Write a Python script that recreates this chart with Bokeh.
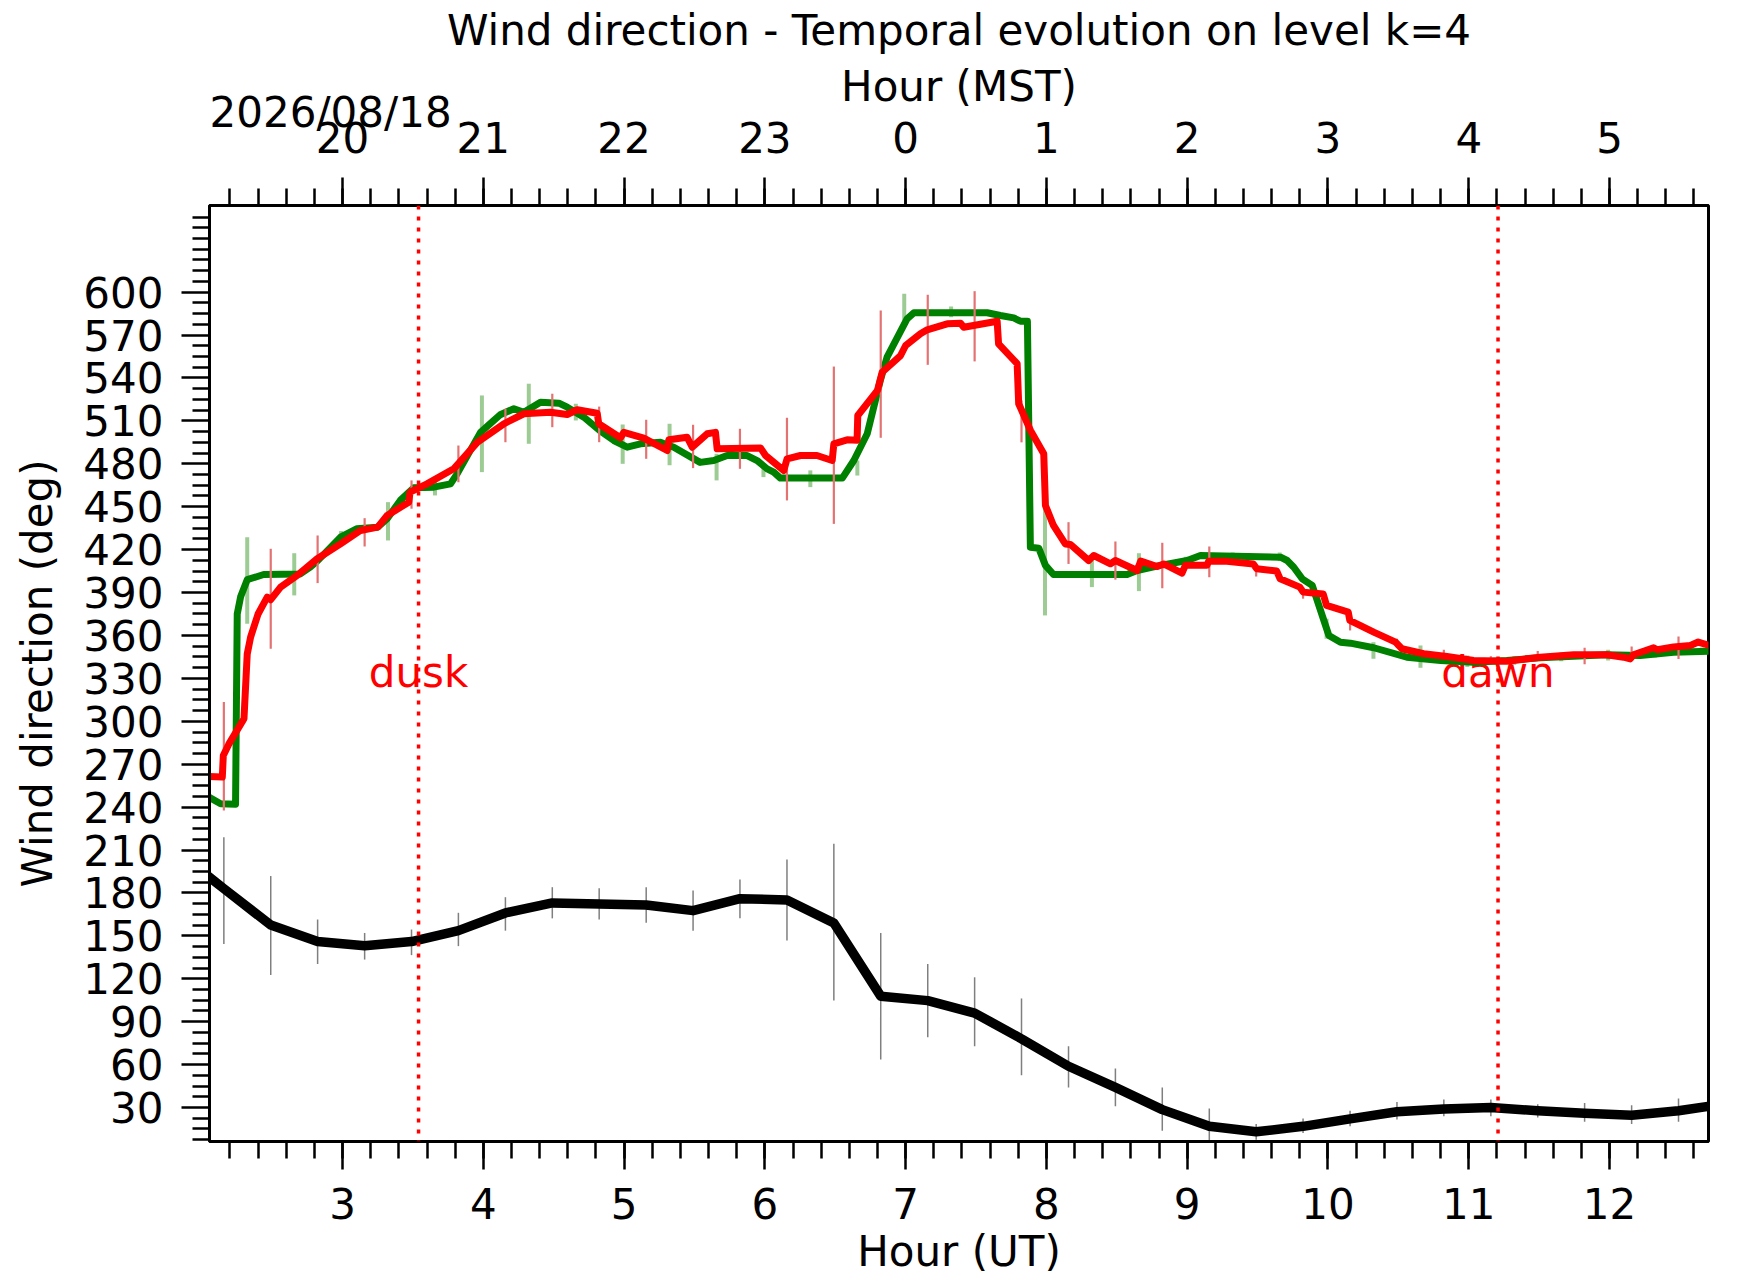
from bokeh.plotting import figure
from bokeh.models import (Range1d, FixedTicker, LinearAxis, Label, Span,
                          CustomJSTickFormatter)
from bokeh.core.properties import value
from bokeh.embed import file_html
from bokeh.resources import INLINE

# ---------------- data ----------------
title_text = "Wind direction - Temporal evolution on level k=4"
date_text = "2026/08/18"
date_center_ut = 2.915

ut_ticks = [3, 4, 5, 6, 7, 8, 9, 10, 11, 12]
mst_labels = ["20", "21", "22", "23", "0", "1", "2", "3", "4", "5"]
y_ticks = [30, 60, 90, 120, 150, 180, 210, 240, 270, 300, 330, 360, 390, 420,
           450, 480, 510, 540, 570, 600]

event_ut = [3.54, 11.208]
event_names = ["dusk", "dawn"]
event_text_y = [334, 334]

# black series (20-min samples)
black_t = [1.823, 2.157, 2.49, 2.823, 3.157, 3.49, 3.823, 4.157, 4.49, 4.823, 5.157,
           5.49, 5.823, 6.157, 6.49, 6.823, 7.157, 7.49, 7.823, 8.157, 8.49, 8.823,
           9.157, 9.49, 9.823, 10.157, 10.49, 10.823, 11.157, 11.49, 11.823, 12.157,
           12.49, 12.823]
black_v = [209, 183, 157.5, 146, 143, 146, 153.6, 166, 173, 172.3, 171.5, 167.6, 176,
           175, 159, 107.8, 104.7, 96, 78, 58.8, 44, 28.5, 16.8, 13, 16.8, 22, 27, 29,
           30, 27.7, 26, 24.6, 27.7, 32.6]

err_t = [2.157, 2.49, 2.823, 3.157, 3.49, 3.823, 4.157, 4.49, 4.823, 5.157, 5.49,
         5.823, 6.157, 6.49, 6.823, 7.157, 7.49, 7.823, 8.157, 8.49, 8.823, 9.157,
         9.49, 9.823, 10.157, 10.49, 10.823, 11.157, 11.49, 11.823, 12.157, 12.49]
black_hi = [219, 191.8, 161.4, 152, 154.4, 166.1, 177, 184, 183.2, 184, 181.6, 189.4,
            203.4, 214.3, 152, 130.3, 121, 106.2, 72.8, 57.2, 44, 29.2, 18.4, 22.2,
            27.7, 33.9, 35.5, 35.5, 32.3, 33.1, 31.6, 36.3]
black_lo = [144.3, 122.6, 130.3, 133.4, 136.5, 142.8, 153.6, 162.2, 161.4, 159.1,
            153.6, 162.2, 146.7, 104.7, 63.5, 79, 72.8, 52.6, 44, 30.8, 13.7, 5.1,
            7.5, 12.1, 16.8, 21.5, 23.8, 23.8, 23, 20, 18.4, 20]

red_hi = [313.4, 420.6, 429.9, 442, 468.4, 492.8, 518.5, 529, 520, 510.8, 507.3,
          504.5, 512.2, 548, 587.2, 598.2, 600.7, 524.3, 439.2, 425.7, 424.8, 422.2,
          408.9, 393.8, 372, 357.7, 350, 345.5, 349.2, 351.4, 352.3, 359.3]
red_lo = [237.6, 350.7, 396.6, 422.2, 448.6, 467.1, 495.1, 505.6, 495.1, 483.5, 477,
          476.5, 454.4, 438, 498.2, 549.2, 551.6, 495, 410, 399, 393, 400.7, 401.2,
          385.7, 363.5, 351.4, 345, 341.6, 343, 339.8, 343, 343.5]

green_err_t = [2.323, 2.657, 2.99, 3.323, 3.657, 3.99, 4.323, 4.657, 4.99, 5.323,
               5.657, 5.99, 6.323, 6.657, 6.99, 7.323, 7.657, 7.99, 8.323, 8.657,
               8.99, 9.323, 9.657, 9.99, 10.323, 10.657, 10.99, 11.323, 11.657,
               11.99, 12.323, 12.657]
green_hi = [428.7, 417.5, 433, 453.2, 468.4, 527.8, 536, 522, 507.5, 508, 487, 477.7,
            475.4, 482.3, 598.9, 590, 586, 449.7, 412.4, 417.5, 415, 418, 418, 371.7,
            355.3, 353, 346, 345.5, 348, 350, 349.5, 351.5]
green_lo = [368.2, 388, 424, 426.4, 457.9, 474.2, 494, 510.3, 480, 479, 468.4, 470.7,
            463.7, 471.8, 580.2, 582.5, 582.5, 374, 393.8, 391, 410, 412, 412, 357.7,
            343.7, 337.4, 338, 339.5, 342, 342.5, 344.5, 346.5]

green_t = [2.05, 2.134, 2.24, 2.252, 2.276, 2.323, 2.44, 2.70, 2.77, 2.82, 2.986, 3.10,
           3.25, 3.317, 3.41, 3.506, 3.648, 3.767, 3.814, 3.98, 4.075, 4.12, 4.217,
           4.288, 4.406, 4.537, 4.596, 4.714, 4.83, 4.927, 5.022, 5.116, 5.258, 5.353,
           5.54, 5.637, 5.732, 5.874, 5.945, 6.016, 6.063, 6.11, 6.55, 6.632, 6.727,
           6.82, 6.868, 7.01, 7.058, 7.579, 7.673, 7.768, 7.815, 7.865, 7.886, 7.946,
           7.993, 8.05, 8.573, 8.644, 8.81, 9.0, 9.094, 9.663, 9.71, 9.757, 9.817,
           9.888, 10.006, 10.089, 10.159, 10.325, 10.56, 10.8, 11.035, 11.27, 11.508,
           11.745, 11.98, 12.218, 12.455, 12.71]
green_v = [247, 242.3, 242, 375, 387, 399, 402.6, 403, 407.7, 412, 428.7, 434.6,
           435.7, 441.6, 454.4, 463.2, 463.7, 466, 473, 502, 510.3, 514.3, 518.5,
           516, 523, 522.4, 519.6, 512.6, 503, 496.3, 491.6, 494, 495, 491.6,
           481, 482.3, 485.8, 485.8, 482.3, 476.5, 474.2, 470, 470, 482.3, 501,
           538.3, 554.6, 581.4, 585.6, 585.6, 583.7, 582, 579.7, 579.7, 421.7, 421,
           409, 402.6, 402.6, 405.4, 409, 412.4, 415.9, 414.7, 412.4, 407.7, 399.6,
           395, 360, 355.3, 354.6, 351.4, 344.8, 342.5, 341.3, 342.5, 344.4,
           345.5, 346.5, 346, 348.3, 349]

red_t = [2.05, 2.146, 2.153, 2.192, 2.30, 2.323, 2.347, 2.40, 2.465, 2.49, 2.56, 2.678,
         2.82, 2.986, 3.128, 3.25, 3.317, 3.47, 3.48, 3.6, 3.79, 3.957, 4.146, 4.288,
         4.477, 4.596, 4.667, 4.809, 4.82, 4.974, 4.998, 5.14, 5.306, 5.318, 5.448,
         5.484, 5.59, 5.649, 5.661, 5.97, 6.005, 6.134, 6.158, 6.253, 6.37, 6.478,
         6.49, 6.584, 6.655, 6.66, 6.80, 6.833, 6.964, 7.0, 7.105, 7.153, 7.295,
         7.39, 7.413, 7.65, 7.66, 7.792, 7.803, 7.887, 7.981, 7.993, 8.05, 8.134,
         8.17, 8.30, 8.336, 8.455, 8.49, 8.644, 8.67, 8.786, 8.833, 8.963, 8.987,
         9.14, 9.152, 9.282, 9.47, 9.494, 9.636, 9.66, 9.8, 9.824, 9.966, 9.99,
         10.144, 10.155, 10.325, 10.48, 10.525, 10.68, 10.845, 11.035, 11.27,
         11.508, 11.745, 11.98, 12.1, 12.147, 12.17, 12.313, 12.34, 12.455, 12.574,
         12.63, 12.71]
red_v = [261.4, 261, 276, 284, 301.8, 347, 358.8, 375, 386.8, 385, 393.8, 402,
         413.6, 424, 433.4, 435.7, 443.9, 453.2, 460.2, 466, 476.5, 495, 508, 515,
         516, 514.5, 517.8, 515.4, 508, 498.2, 502, 498, 489.3, 496.8, 498.6,
         491.6, 501, 502, 490.5, 491, 485.8, 475.3, 483.5, 485.8, 485.8, 482.3,
         494, 496.8, 496.5, 513.8, 531.3, 544, 555.7, 562.7, 570.9, 573.7, 577.9,
         578.3, 575.5, 579.7, 563.9, 550, 522, 503.3, 487, 450.9, 436.9, 424,
         423.6, 412.4, 415.9, 410.1, 412.4, 405.4, 412, 408.2, 410, 403.6, 409,
         409, 411.8, 411.8, 410, 406.6, 405, 399.6, 393.8, 390.3, 389, 381,
         376.3, 370.5, 362.3, 355.3, 350.7, 347.2, 345.3, 342.5, 342,
         344.8, 346.5, 346.5, 344.8, 343.6, 346.5, 351.4, 350, 352, 353,
         355.4, 353]

# ---------------- figure ----------------
FONT = "DejaVu Sans"
FS = "42px"

x_lo, x_hi = 2.055, 12.703
y_lo, y_hi = 6.2, 660.6

p = figure(width=1740, height=1280, output_backend="svg", toolbar_location=None,
           x_range=Range1d(x_lo, x_hi), y_range=Range1d(y_lo, y_hi),
           min_border_left=209, min_border_right=32, min_border_top=205,
           min_border_bottom=139, title=title_text)
p.background_fill_color = "white"
p.border_fill_color = "white"
p.outline_line_color = "black"
p.outline_line_width = 3
p.xgrid.visible = False
p.ygrid.visible = False

p.title.align = "center"
p.title.text_font = FONT
p.title.text_font_size = FS
p.title.text_font_style = "normal"
p.title.text_color = "black"
p.title.standoff = 7


def style_axis(ax):
    ax.axis_line_width = 3
    ax.axis_line_color = "black"
    ax.major_tick_line_width = 2.5
    ax.minor_tick_line_width = 2.5
    ax.major_tick_line_color = "black"
    ax.minor_tick_line_color = "black"
    ax.major_tick_in = 0
    ax.major_tick_out = 28
    ax.minor_tick_in = 0
    ax.minor_tick_out = 17
    ax.major_label_text_font = FONT
    ax.major_label_text_font_size = FS
    ax.major_label_text_color = "black"
    ax.axis_label_text_font = FONT
    ax.axis_label_text_font_size = FS
    ax.axis_label_text_font_style = "normal"
    ax.axis_label_text_color = "black"


ut_minor = [round(2.2 + 0.2 * i, 1) for i in range(53)]
y_minor = [7.5 * i for i in range(1, 88) if (7.5 * i) % 30 != 0 or 7.5 * i > 600]

xb = p.xaxis[0]
xb.ticker = FixedTicker(ticks=ut_ticks, minor_ticks=ut_minor)
style_axis(xb)
xb.major_label_standoff = 18

yl = p.yaxis[0]
yl.ticker = FixedTicker(ticks=y_ticks, minor_ticks=y_minor)
yl.axis_label = "Wind direction (deg)"
style_axis(yl)
yl.major_label_standoff = 18
yl.axis_label_standoff = 18

# top axis: MST hours
xt = LinearAxis(ticker=FixedTicker(ticks=ut_ticks, minor_ticks=ut_minor),
                major_label_overrides={t: lab for t, lab in zip(ut_ticks, mst_labels)})
style_axis(xt)
xt.major_label_standoff = 25
p.add_layout(xt, "above")

# second top "axis" carrying only the date and the MST axis title
xd = LinearAxis(ticker=FixedTicker(ticks=[date_center_ut], minor_ticks=[]),
                formatter=CustomJSTickFormatter(code="return '%s';" % date_text),
                axis_label="Hour (MST)")
style_axis(xd)
xd.axis_line_color = None
xd.major_tick_out = 0
xd.minor_tick_out = 0
xd.major_label_text_align = "center"
xd.major_label_standoff = -18
xd.axis_label_standoff = -26
p.add_layout(xd, "above")

# bottom axis title placed in the bottom panel
p.add_layout(Label(x=(x_lo + x_hi) / 2, y=y_lo - 77.0, text="Hour (UT)",
                   text_font=FONT, text_font_size=FS, text_color="black",
                   text_align="center", text_baseline="alphabetic"), "below")

# ---------------- marks ----------------
p.text(x=event_ut, y=event_text_y, text=event_names, text_color="#ff0000",
       text_align="center", text_baseline="alphabetic",
       text_font=value(FONT), text_font_size=value(FS))

p.segment(x0=err_t, y0=black_lo, x1=err_t, y1=black_hi, line_color="#7f7f7f",
          line_width=1.5)
p.line(black_t, black_v, line_color="black", line_width=9.5, line_join="round")

p.segment(x0=green_err_t, y0=green_lo, x1=green_err_t, y1=green_hi,
          line_color="#9ccc94", line_width=4)
p.line(green_t, green_v, line_color="#008000", line_width=7, line_join="round")

p.segment(x0=err_t, y0=red_lo, x1=err_t, y1=red_hi, line_color="#e47272",
          line_width=2.2)
p.line(red_t, red_v, line_color="#ff0000", line_width=7, line_join="round")

for t in event_ut:
    p.add_layout(Span(location=t, dimension="height", line_color="#ff0000",
                      line_dash="4 7", line_width=3.5))

open("out.html", "w").write(file_html(p, INLINE))
